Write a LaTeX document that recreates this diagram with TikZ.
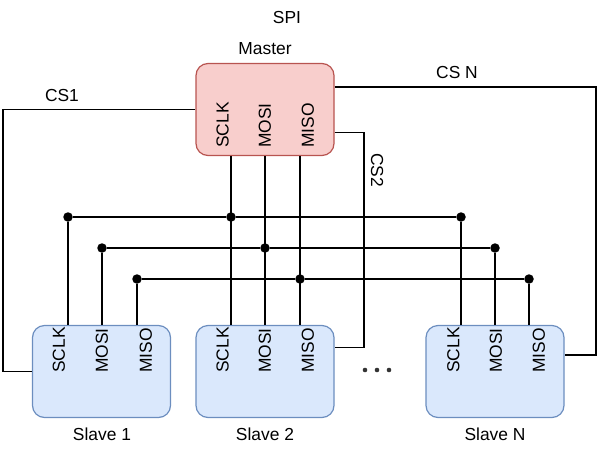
\documentclass[tikz,border=0pt]{standalone}
\usepackage{fontspec}
\setmainfont{Liberation Sans}
\usetikzlibrary{positioning,calc}
\definecolor{masterfill}{HTML}{F8CECC}
\definecolor{masterline}{HTML}{B85450}
\definecolor{slavefill}{HTML}{DAE8FC}
\definecolor{slaveline}{HTML}{6C8EBF}
\definecolor{dotgray}{HTML}{333333}
\newcommand{\diagfont}{\fontsize{17.4}{20}\selectfont}

\begin{document}
\begin{tikzpicture}[x=1pt, y=-1pt,
    device/.style={rectangle, line width=1.2pt, rounded corners=12pt, minimum width=138pt, minimum height=92pt},
    master/.style={device, draw=masterline, fill=masterfill},
    slave/.style={device, draw=slaveline, fill=slavefill},
    pin/.style={rotate=90, anchor=west, inner sep=0pt, font=\diagfont},
    lbl/.style={font=\diagfont},
    junction/.style={circle, fill=black, inner sep=0pt, minimum size=9.5pt},
    wire/.style={line width=1.4pt}
]
\useasboundingbox (0,0) rectangle (599,450);

% Titles
\node[lbl] (spi) at (287,18) {SPI};
\node[lbl] (mname) at (265,49) {Master};

% Master
\node[master] (master) at (265,109.5) {};
\node[pin] (mclk) at (222.7,148) {SCLK};
\node[pin] (mmosi) at (265,148) {MOSI};
\node[pin] (mmiso) at (308,148) {MISO};

% Slaves
\node[slave] (s1) at (101.5,371.5) {};
\node[pin] (s1clk) at (59,373) {SCLK};
\node[pin] (s1mosi) at (102,373) {MOSI};
\node[pin] (s1miso) at (146,373) {MISO};
\node[lbl] (s1name) at (102,434) {Slave 1};

\node[slave] (s2) at (265,371.5) {};
\node[pin] (s2clk) at (222.7,373) {SCLK};
\node[pin] (s2mosi) at (265,373) {MOSI};
\node[pin] (s2miso) at (308,373) {MISO};
\node[lbl] (s2name) at (265,434) {Slave 2};

\node[slave] (sn) at (495,371.5) {};
\node[pin] (snclk) at (453.5,373) {SCLK};
\node[pin] (snmosi) at (496,373) {MOSI};
\node[pin] (snmiso) at (539,373) {MISO};
\node[lbl] (snname) at (495,434) {Slave N};

\foreach \x in {365,377,389}
    \fill[dotgray] (\x,370) circle (2.3pt);

% Bus junctions
\node[junction] (c1) at (68,217) {};
\node[junction] (c2) at (231,217) {};
\node[junction] (c3) at (461,217) {};
\node[junction] (o1) at (102,248) {};
\node[junction] (o2) at (265,248) {};
\node[junction] (o3) at (495,248) {};
\node[junction] (i1) at (137,279) {};
\node[junction] (i2) at (300,279) {};
\node[junction] (i3) at (529,279) {};

% SCLK
\draw[wire] (c1) -- (c2) -- (c3);
\draw[wire] (c1) -- (s1.north -| c1);
\draw[wire] (master.south -| c2) -- (s2.north -| c2);
\draw[wire] (c3) -- (sn.north -| c3);
% MOSI
\draw[wire] (o1) -- (o2) -- (o3);
\draw[wire] (o1) -- (s1.north -| o1);
\draw[wire] (master.south -| o2) -- (s2.north -| o2);
\draw[wire] (o3) -- (sn.north -| o3);
% MISO
\draw[wire] (i1) -- (i2) -- (i3);
\draw[wire] (i1) -- (s1.north -| i1);
\draw[wire] (master.south -| i2) -- (s2.north -| i2);
\draw[wire] (i3) -- (sn.north -| i3);

% Chip selects
\coordinate (cs1) at (3,109.5);
\coordinate (cs2) at (364,132.5);
\coordinate (csn) at (596,87);
\draw[wire] (master.west) -- (cs1) |- (s1.west);
\draw[wire] ([yshift=-23pt]master.east) -- (cs2) |- ([yshift=24pt]s2.east);
\draw[wire] ([yshift=22.5pt]master.east) -- (csn) |- ([yshift=16.5pt]sn.east);
\node[lbl] (cs1name) at (62,96) {CS1};
\node[lbl, rotate=-90] (cs2name) at (377,170) {CS2};
\node[lbl] (csnname) at (457,73) {CS N};

\end{tikzpicture}
\end{document}
